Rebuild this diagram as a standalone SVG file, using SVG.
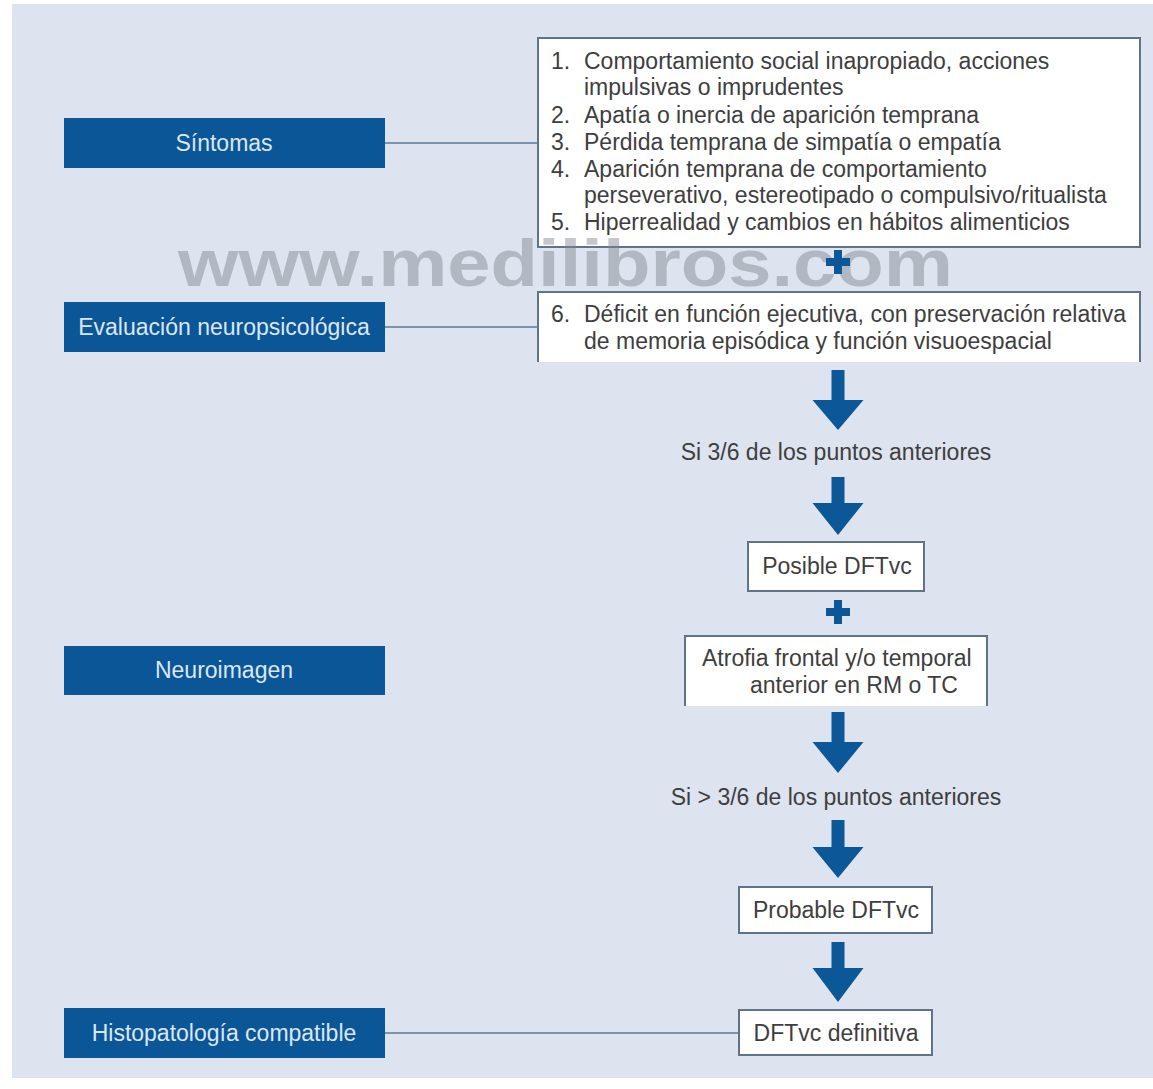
<svg xmlns="http://www.w3.org/2000/svg" width="1153" height="1089" viewBox="0 0 1153 1089">
<defs>
<style>
.t{font-family:"Liberation Sans",Arial,sans-serif;font-size:23px;fill:#3e3e3e}
.lab{font-family:"Liberation Sans",Arial,sans-serif;font-size:23px;fill:#dce6f2;text-anchor:middle}
.cat{fill:#0a5697}
.box{fill:#ffffff;stroke:#5f7489;stroke-width:2}
.open{fill:none;stroke:#5f7489;stroke-width:2}
.ln{stroke:#5c7a99;stroke-width:1.6;fill:none}
.arr{fill:#0b5798}
.mid{text-anchor:middle}
</style>
</defs>
<rect x="0" y="0" width="1153" height="1089" fill="#ffffff"/>
<rect x="12" y="4" width="1141" height="1074" fill="#dde4ef"/>

<g id="connectors">
<line class="ln" x1="385" y1="143" x2="538" y2="143"/>
<line class="ln" x1="385" y1="327" x2="538" y2="327"/>
<line class="ln" x1="385" y1="1033" x2="739" y2="1033"/>
<path class="arr" d="M831.5 370h13v30h19l-25.5 30l-25.5 -30h19z"/>
<path class="arr" d="M831.5 477h13v26h19l-25.5 32l-25.5 -32h19z"/>
<path class="arr" d="M831.5 712h13v30h19l-25.5 31l-25.5 -31h19z"/>
<path class="arr" d="M831.5 820h13v27h19l-25.5 31l-25.5 -31h19z"/>
<path class="arr" d="M831.5 942h13v26h19l-25.5 34l-25.5 -34h19z"/>
</g>

<g id="sintomas">
<rect class="cat" x="64" y="118" width="321" height="50"/>
<text class="lab" x="224" y="151">Síntomas</text>
</g>
<g id="evaluacion">
<rect class="cat" x="64" y="302" width="321" height="50"/>
<text class="lab" x="224" y="335">Evaluación neuropsicológica</text>
</g>
<g id="neuroimagen">
<rect class="cat" x="64" y="646" width="321" height="49"/>
<text class="lab" x="224" y="678">Neuroimagen</text>
</g>
<g id="histopatologia">
<rect class="cat" x="64" y="1008" width="321" height="50"/>
<text class="lab" x="224" y="1041">Histopatología compatible</text>
</g>

<g id="criterios">
<rect class="box" x="538" y="38" width="602" height="209"/>
<text class="t" x="551" y="69">1.</text><text class="t" x="584" y="69">Comportamiento social inapropiado, acciones</text>
<text class="t" x="584" y="95">impulsivas o imprudentes</text>
<text class="t" x="551" y="123">2.</text><text class="t" x="584" y="123">Apatía o inercia de aparición temprana</text>
<text class="t" x="551" y="150">3.</text><text class="t" x="584" y="150">Pérdida temprana de simpatía o empatía</text>
<text class="t" x="551" y="177">4.</text><text class="t" x="584" y="177">Aparición temprana de comportamiento</text>
<text class="t" x="584" y="203">perseverativo, estereotipado o compulsivo/ritualista</text>
<text class="t" x="551" y="230">5.</text><text class="t" x="584" y="230">Hiperrealidad y cambios en hábitos alimenticios</text>
</g>

<g id="deficit">
<rect x="538" y="292" width="602" height="70" fill="#ffffff"/>
<path class="open" d="M538 362V292H1140V362"/>
<text class="t" x="551" y="322">6.</text><text class="t" x="584" y="322">Déficit en función ejecutiva, con preservación relativa</text>
<text class="t" x="584" y="349">de memoria episódica y función visuoespacial</text>
</g>

<g id="watermark">
<text x="178" y="286" font-family="Liberation Sans,Arial,sans-serif" font-weight="bold" font-size="66" fill="#7d838c" fill-opacity="0.45" textLength="775" lengthAdjust="spacingAndGlyphs">www.medilibros.com</text>
</g>

<g id="plus1">
<path class="arr" d="M834 250h8v8h8v8h-8v8h-8v-8h-8v-8h8z"/>
</g>

<g id="umbral1">
<text class="t mid" x="836" y="460">Si 3/6 de los puntos anteriores</text>
</g>

<g id="posible">
<rect class="box" x="748" y="542" width="176" height="49"/>
<text class="t mid" x="837" y="574">Posible DFTvc</text>
</g>

<g id="plus2">
<path class="arr" d="M834 600h8v8h8v8h-8v8h-8v-8h-8v-8h8z"/>
</g>

<g id="atrofia">
<rect x="685" y="636" width="302" height="70" fill="#ffffff"/>
<path class="open" d="M685 706V636H987V706"/>
<text class="t" x="702" y="666">Atrofia frontal y/o temporal</text>
<text class="t" x="750" y="693">anterior en RM o TC</text>
</g>

<g id="umbral2">
<text class="t mid" x="836" y="805">Si &gt; 3/6 de los puntos anteriores</text>
</g>

<g id="probable">
<rect class="box" x="739" y="887" width="193" height="46"/>
<text class="t mid" x="836" y="918">Probable DFTvc</text>
</g>

<g id="definitiva">
<rect class="box" x="739" y="1010" width="193" height="45"/>
<text class="t mid" x="836" y="1041">DFTvc definitiva</text>
</g>
</svg>
